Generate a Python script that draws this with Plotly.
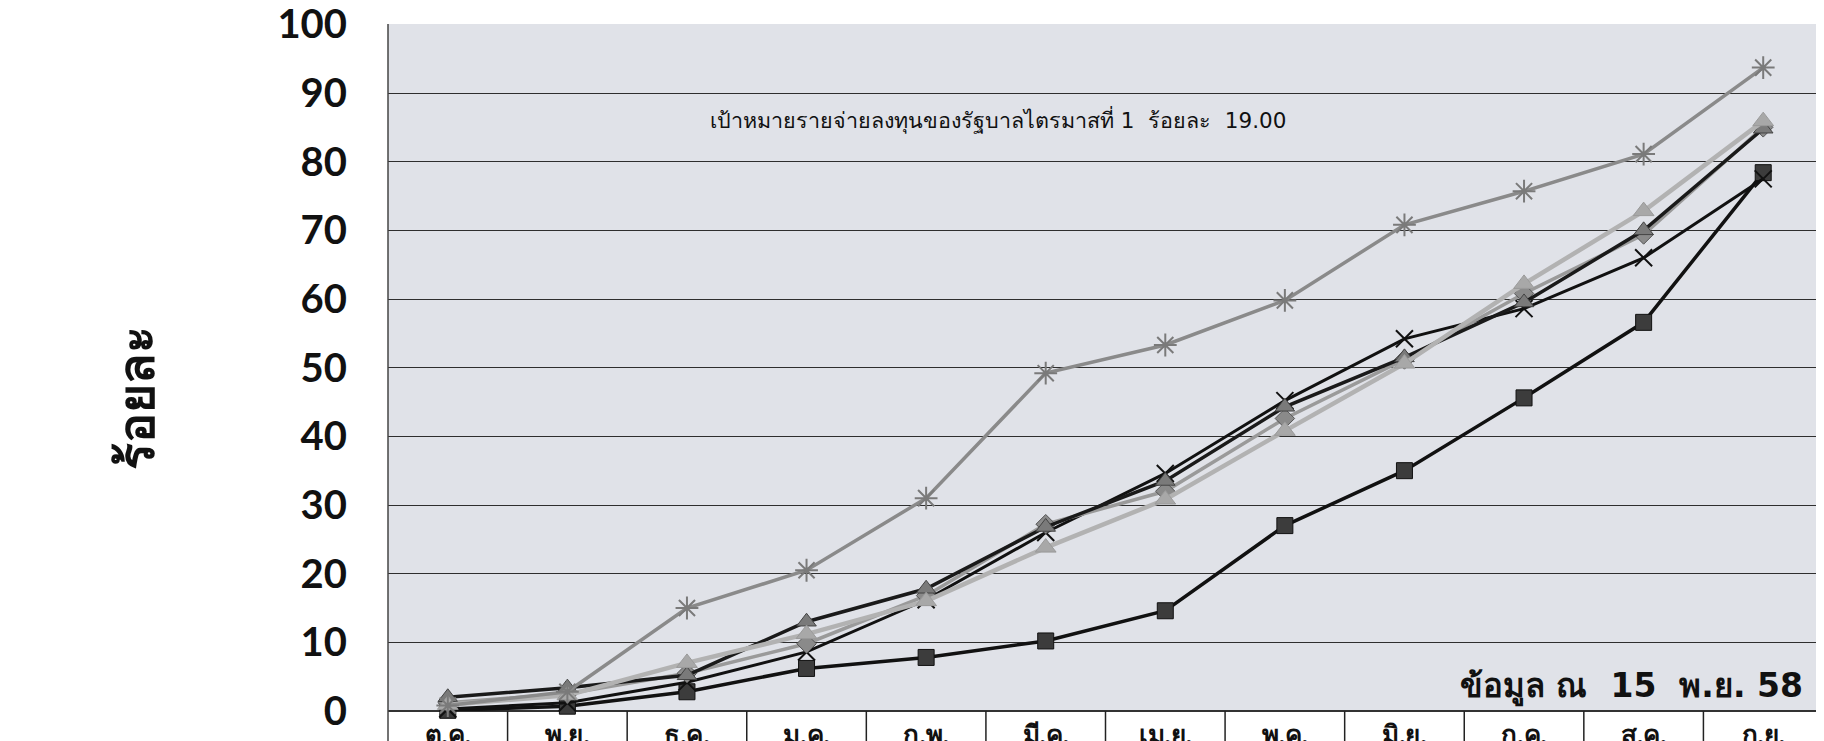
import plotly.graph_objects as go

months = ["ต.ค.", "พ.ย.", "ธ.ค.", "ม.ค.", "ก.พ.", "มี.ค.", "เม.ย.", "พ.ค.", "มิ.ย.", "ก.ค.", "ส.ค.", "ก.ย."]

s_star = [0.8, 2.8, 15.0, 20.5, 31.0, 49.2, 53.3, 59.8, 70.8, 75.7, 81.1, 93.7]
s_square = [0.1, 0.7, 2.8, 6.2, 7.8, 10.2, 14.6, 27.0, 35.0, 45.6, 56.6, 78.4]
s_x = [0.3, 1.2, 4.2, 8.6, 16.2, 26.0, 34.6, 45.2, 54.2, 58.6, 66.0, 77.5]
s_tri_dark = [2.0, 3.4, 5.2, 13.0, 17.8, 26.8, 33.5, 44.3, 51.5, 59.5, 70.0, 84.8]
s_tri_light = [0.9, 2.3, 7.0, 11.2, 16.0, 23.8, 30.8, 40.8, 50.6, 62.2, 72.8, 85.9]
s_diamond = [1.2, 2.5, 5.5, 9.8, 16.8, 27.2, 32.0, 42.6, 51.2, 60.8, 69.4, 85.0]

y_ticks = [0, 10, 20, 30, 40, 50, 60, 70, 80, 90, 100]
target_note = "เป้าหมายรายจ่ายลงทุนของรัฐบาลไตรมาสที่ 1  ร้อยละ  19.00"
date_note = "ข้อมูล ณ  15  พ.ย. 58"
y_title = "ร้อยละ"

xi = list(range(len(months)))

fig = go.Figure()

def add(vals, lc, lw, sym, mc, ms, ml="#111111", mlw=1):
    fig.add_trace(go.Scatter(
        x=xi, y=vals, mode="lines+markers",
        line=dict(color=lc, width=lw),
        marker=dict(symbol=sym, color=mc, size=ms, line=dict(color=ml, width=mlw)),
        showlegend=False, cliponaxis=False))

add(s_square, "#111111", 3.5, "square", "#3c3c3c", 16, "#111111", 1)
add(s_x, "#111111", 3, "x-thin-open", "#111111", 17, "#111111", 2)
add(s_diamond, "#9a9a9a", 3.5, "diamond", "#8a8a8a", 15, "#555555", 1)
add(s_tri_dark, "#1a1a1a", 3.5, "triangle-up", "#7a7a7a", 17, "#444444", 1)
add(s_tri_light, "#b2b2b2", 4.5, "triangle-up", "#a8a8a8", 18, "#9a9a9a", 1)
add(s_star, "#8a8a8a", 3.5, "asterisk-open", "#7a7a7a", 19, "#7a7a7a", 2)

shapes = []
for i in range(len(months) - 1):
    shapes.append(dict(type="line", xref="x", yref="paper", x0=i + 0.5, x1=i + 0.5,
                       y0=-0.2, y1=0, line=dict(color="#222222", width=1.5)))
shapes.append(dict(type="line", xref="paper", yref="paper", x0=0, x1=0,
                   y0=-0.2, y1=1, line=dict(color="#444444", width=1.5)))

fig.update_layout(
    width=1824, height=741,
    margin=dict(l=380, r=9, t=16, b=38),
    paper_bgcolor="white",
    plot_bgcolor="#e0e2e8",
    shapes=shapes,
    xaxis=dict(
        range=[-0.5, len(months) - 0.5],
        tickmode="array", tickvals=xi, ticktext=months,
        showgrid=False, zeroline=False, ticks="", automargin=False,
        tickfont=dict(family="Lato, DejaVu Sans", size=26, color="#111111", weight="bold"),
        ticklabelstandoff=6,
    ),
    yaxis=dict(
        range=[0, 100.05], tickvals=y_ticks, automargin=False,
        showgrid=True, gridcolor="#2e2e2e", gridwidth=1,
        zeroline=True, zerolinecolor="#333333", zerolinewidth=1.5,
        ticks="", ticklabelstandoff=40, ticklabeloverflow="allow",
        tickfont=dict(family="Lato, Open Sans", size=40, color="#111111", weight="bold"),
    ),
    annotations=[
        dict(text=target_note, xref="x", yref="y", x=4.6, y=86.0, showarrow=False,
             font=dict(family="DejaVu Sans", size=21.5, color="#111111")),
        dict(text=date_note, xref="paper", yref="y", x=0.9875, y=3.6, xanchor="right",
             showarrow=False,
             font=dict(family="DejaVu Sans", size=33, color="#111111", weight="bold")),
        dict(text=y_title, xref="paper", yref="paper", x=-0.196, y=0.455, showarrow=False,
             textangle=-90,
             font=dict(family="DejaVu Sans", size=50, color="#111111", weight="bold")),
    ],
)

fig.write_html("out.html")
